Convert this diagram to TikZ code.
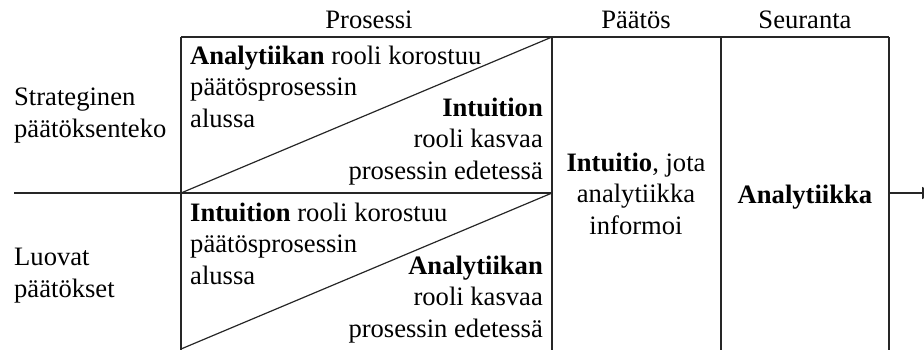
\documentclass[tikz,border=0pt]{standalone}
\usepackage{fontspec}
\setmainfont{Liberation Serif}
\usetikzlibrary{arrows.meta}
\begin{document}
\begin{tikzpicture}[x=1pt,y=-1pt,
  rule/.style={line width=1.2pt,draw=black!85},
  txt/.style={inner sep=0pt,font=\fontsize{26.6}{31.5}\selectfont},
  lefttxt/.style={txt,align=left,anchor=base west},
  righttxt/.style={txt,align=right,anchor=base east},
  midtxt/.style={txt,align=center,anchor=base}]
\useasboundingbox (0,0) rectangle (924,349);
\clip (0,0) rectangle (924,349);

% grid corners
\coordinate (tl) at (181,37);
\coordinate (t2) at (552,37);
\coordinate (t3) at (721,37);
\coordinate (tr) at (889,37);
\coordinate (bl) at (181,352);
\coordinate (b2) at (552,352);
\coordinate (b3) at (721,352);
\coordinate (br) at (889,352);
\coordinate (ml) at (14,193);
\coordinate (m1) at (181,193);
\coordinate (m2) at (552,193);
\coordinate (mr) at (889,193);
\coordinate (dlow) at (181,349);
\coordinate (out) at (934,193);

% frame and columns
\draw[rule] (tl) -- (tr);
\draw[rule] (tl) -- (bl);
\draw[rule] (t2) -- (b2);
\draw[rule] (t3) -- (b3);
\draw[rule] (tr) -- (br);
% row divider and diagonals
\draw[rule] (ml) -- (m2);
\draw[rule] (m1) -- (t2);
\draw[rule] (dlow) -- (m2);
% outgoing arrow
\draw[rule,-{Triangle[length=12pt,width=12pt]}] (mr) -- (out);

% column headings
\node[midtxt] (hproc) at (369,28) {Prosessi};
\node[midtxt] (hdec) at (636,28) {Päätös};
\node[midtxt] (hfol) at (805,28) {Seuranta};

% row headings (anchored at the baseline of the last line)
\node[lefttxt] (rstrat) at (14,137) {Strateginen\\päätöksenteko};
\node[lefttxt] (rcreat) at (14,297) {Luovat\\päätökset};

% process cells
\node[lefttxt] (p1a) at (190,127) {\textbf{Analytiikan} rooli korostuu\\päätösprosessin\\alussa};
\node[righttxt] (p1b) at (543,179) {\textbf{Intuition}\\rooli kasvaa\\prosessin edetessä};
\node[lefttxt] (p2a) at (190,284) {\textbf{Intuition} rooli korostuu\\päätösprosessin\\alussa};
\node[righttxt] (p2b) at (543,337) {\textbf{Analytiikan}\\rooli kasvaa\\prosessin edetessä};

% decision and follow-up
\node[midtxt] (dec) at (636,234) {\textbf{Intuitio}, jota\\analytiikka\\informoi};
\node[midtxt] (fol) at (805,203) {\textbf{Analytiikka}};
\end{tikzpicture}
\end{document}
